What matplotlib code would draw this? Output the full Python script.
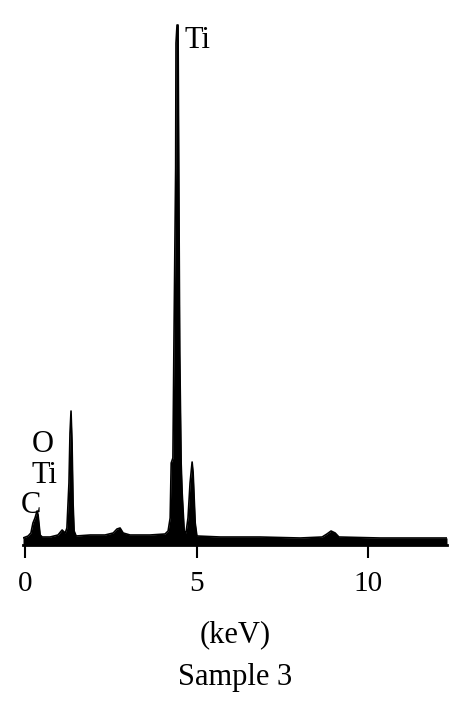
import numpy as np
import matplotlib.pyplot as plt

# EDS spectrum (energy in keV, intensity in arbitrary counts)
ENERGY = [-0.06, 0.09, 0.17, 0.23, 0.29, 0.35, 0.38, 0.44, 0.50, 0.73, 0.96, 1.08,
          1.17, 1.22, 1.28, 1.31, 1.34, 1.37, 1.40, 1.43, 1.49, 1.90, 2.33, 2.57,
          2.68, 2.77, 2.86, 3.06, 3.64, 4.08, 4.17, 4.23, 4.26, 4.31, 4.34, 4.39,
          4.40, 4.43, 4.46, 4.48, 4.51, 4.55, 4.58, 4.64, 4.69, 4.75, 4.81, 4.87,
          4.90, 4.96, 5.01, 5.69, 6.85, 8.02, 8.66, 8.80, 8.92, 9.04, 9.15, 10.35,
          11.52, 12.30]
COUNTS = [5, 7, 10, 20, 25, 32, 28, 8, 6, 6, 8, 13,
          10, 15, 60, 110, 132, 100, 40, 12, 7, 8, 8, 10,
          14, 15, 10, 8, 8, 9, 12, 25, 80, 85, 200, 375,
          500, 518, 518, 380, 190, 80, 50, 12, 10, 25, 60, 81,
          70, 20, 7, 6, 6, 5, 6, 9, 12, 10, 6, 5,
          5, 5]

TICKS = [0, 5, 10]
TICK_LABELS = ["0", "5", "10"]

# peak labels: (text, energy, height)
PEAK_LABELS = ["Ti", "O", "Ti", "C"]
PEAK_X = [4.66, 0.51, 0.58, 0.17]
PEAK_Y = [495, 91, 60, 30]
PEAK_HA = ["left", "center", "center", "center"]

plt.rcParams["font.family"] = ["Liberation Serif", "DejaVu Serif"]

fig = plt.figure(figsize=(4.68, 7.19), dpi=100)
ax = fig.add_axes([23 / 468, 174 / 719, 424 / 468, 525 / 719])

ax.fill_between(ENERGY, -2, COUNTS, color="black", lw=0)
ax.plot(ENERGY, COUNTS, color="black", lw=1.2)

for txt, x, y, ha in zip(PEAK_LABELS, PEAK_X, PEAK_Y, PEAK_HA):
    ax.text(x, y, txt, ha=ha, va="baseline", fontsize=22)

ax.set_xlim(-0.06, 12.3)
ax.set_ylim(-2, 523)
for s in ["left", "right", "top"]:
    ax.spines[s].set_visible(False)
ax.spines["bottom"].set_linewidth(2.0)
ax.set_yticks([])
ax.set_xticks(TICKS)
ax.set_xticklabels(TICK_LABELS)
ax.tick_params(axis="x", direction="out", length=9, width=1.5, pad=10, labelsize=21)

fig.text(235 / 468, 1 - 635 / 719, "(keV)", ha="center", va="center", fontsize=22)
fig.text(235 / 468, 1 - 677 / 719, "Sample 3", ha="center", va="center", fontsize=22)

fig.savefig("out.png", dpi=100)
